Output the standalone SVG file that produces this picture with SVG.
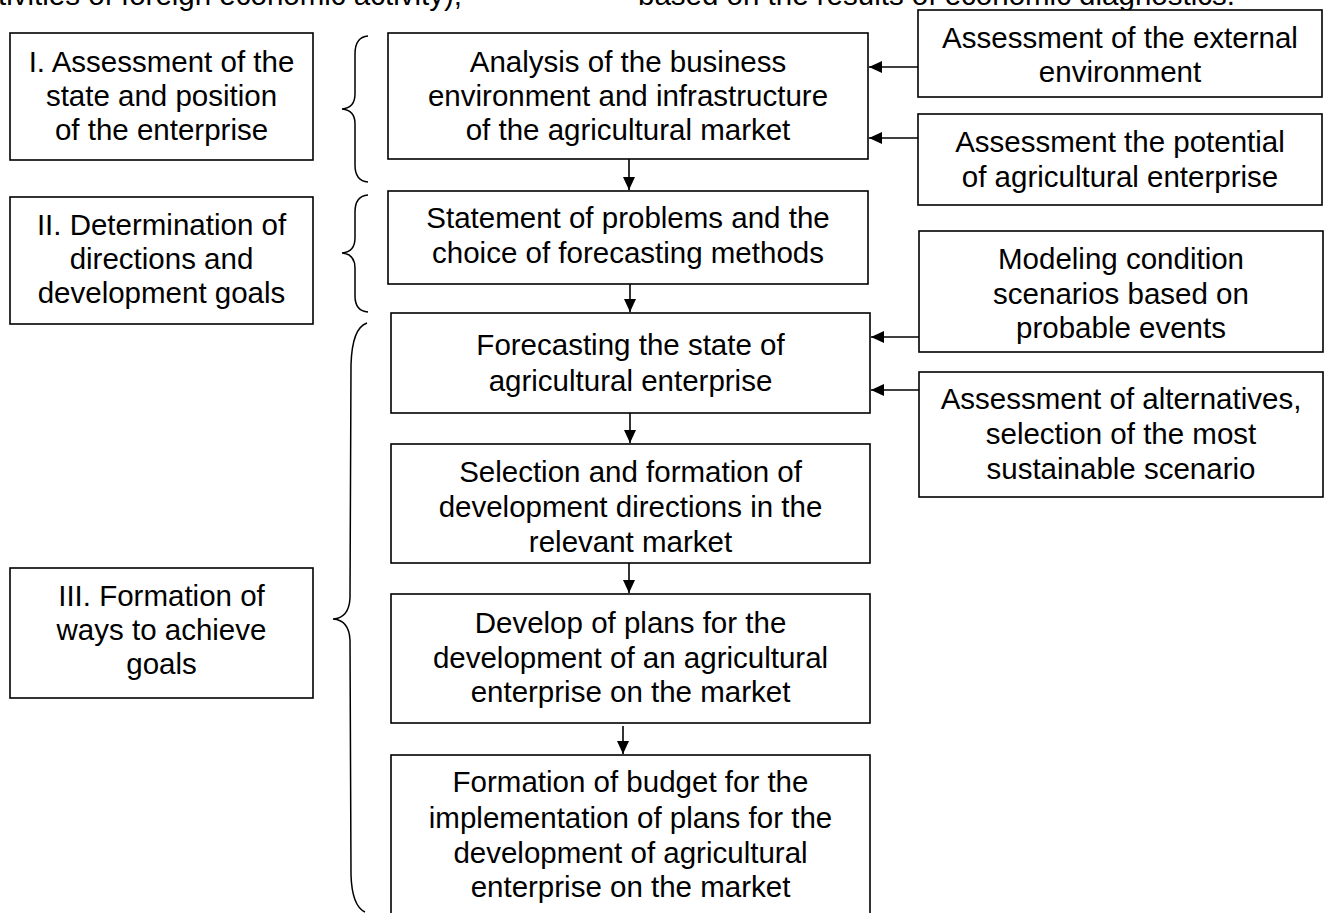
<svg xmlns="http://www.w3.org/2000/svg" width="1328" height="913" viewBox="0 0 1328 913">
<style>
.box{fill:#fff;stroke:#000;stroke-width:1.6}
.t{font-family:"Liberation Sans",Arial,sans-serif;font-size:29.5px;fill:#000;text-anchor:middle}
.tl{font-family:"Liberation Sans",Arial,sans-serif;font-size:29.5px;fill:#000}
.c{stroke:#000;stroke-width:1.6;fill:none}
.br{stroke:#000;stroke-width:1.5;fill:none}
</style>
<defs>
<marker id="ah" viewBox="0 0 13 12" refX="13" refY="6" markerWidth="13" markerHeight="12" markerUnits="userSpaceOnUse" orient="auto">
<path d="M0,0 L13,6 L0,12 z" fill="#000"/>
</marker>
</defs>
<rect width="1328" height="913" fill="#fff"/>
<text class="tl" x="-2" y="5">tivities of foreign economic activity);</text>
<text class="tl" x="638" y="5">based on the results of economic diagnostics.</text>

<g id="stage1">
<rect class="box" x="10" y="33" width="303" height="127"/>
<text class="t" x="161.5" y="72">I. Assessment of the</text>
<text class="t" x="161.5" y="106">state and position</text>
<text class="t" x="161.5" y="140">of the enterprise</text>
</g>
<g id="stage2">
<rect class="box" x="10" y="197" width="303" height="127"/>
<text class="t" x="161.5" y="235">II. Determination of</text>
<text class="t" x="161.5" y="269">directions and</text>
<text class="t" x="161.5" y="303">development goals</text>
</g>
<g id="stage3">
<rect class="box" x="10" y="568" width="303" height="130"/>
<text class="t" x="161.5" y="606">III. Formation of</text>
<text class="t" x="161.5" y="640">ways to achieve</text>
<text class="t" x="161.5" y="674">goals</text>
</g>

<g id="braces">
<path class="br" d="M368,36 Q355,37 355,54 L355,94 Q355,108 342,109 Q355,110 355,124 L355,165 Q355,181 368,182"/>
<path class="br" d="M368,195 Q355,196 355,212 L355,238 Q355,252 342,253 Q355,254 355,268 L355,296 Q355,311 368,312"/>
<path class="br" d="M367,323 Q352,328 351,365 L350,598 Q349,618 333,619 Q349,620 350,640 L351,875 Q352,906 365,912"/>
</g>

<g id="analysis">
<rect class="box" x="388" y="33" width="480" height="126"/>
<text class="t" x="628" y="72">Analysis of the business</text>
<text class="t" x="628" y="106">environment and infrastructure</text>
<text class="t" x="628" y="140">of the agricultural market</text>
</g>
<g id="statement">
<rect class="box" x="388" y="191" width="480" height="93"/>
<text class="t" x="628" y="228">Statement of problems and the</text>
<text class="t" x="628" y="263">choice of forecasting methods</text>
</g>
<g id="forecasting">
<rect class="box" x="391" y="313" width="479" height="100"/>
<text class="t" x="630.5" y="355">Forecasting the state of</text>
<text class="t" x="630.5" y="391">agricultural enterprise</text>
</g>
<g id="selection">
<rect class="box" x="391" y="444" width="479" height="119"/>
<text class="t" x="630.5" y="482">Selection and formation of</text>
<text class="t" x="630.5" y="517">development directions in the</text>
<text class="t" x="630.5" y="552">relevant market</text>
</g>
<g id="develop">
<rect class="box" x="391" y="594" width="479" height="129"/>
<text class="t" x="630.5" y="633">Develop of plans for the</text>
<text class="t" x="630.5" y="668">development of an agricultural</text>
<text class="t" x="630.5" y="702">enterprise on the market</text>
</g>
<g id="budget">
<rect class="box" x="391" y="755" width="479" height="180"/>
<text class="t" x="630.5" y="792">Formation of budget for the</text>
<text class="t" x="630.5" y="828">implementation of plans for the</text>
<text class="t" x="630.5" y="863">development of agricultural</text>
<text class="t" x="630.5" y="897">enterprise on the market</text>
</g>

<g id="external">
<rect class="box" x="918" y="10" width="404" height="87"/>
<text class="t" x="1120" y="48">Assessment of the external</text>
<text class="t" x="1120" y="82">environment</text>
</g>
<g id="potential">
<rect class="box" x="918" y="114" width="404" height="91"/>
<text class="t" x="1120" y="152">Assessment the potential</text>
<text class="t" x="1120" y="187">of agricultural enterprise</text>
</g>
<g id="modeling">
<rect class="box" x="919" y="231" width="404" height="121"/>
<text class="t" x="1121" y="269">Modeling condition</text>
<text class="t" x="1121" y="304">scenarios based on</text>
<text class="t" x="1121" y="338">probable events</text>
</g>
<g id="alternatives">
<rect class="box" x="919" y="372" width="404" height="125"/>
<text class="t" x="1121" y="409">Assessment of alternatives,</text>
<text class="t" x="1121" y="444">selection of the most</text>
<text class="t" x="1121" y="479">sustainable scenario</text>
</g>

<g id="connectors">
<line class="c" x1="918" y1="67" x2="869" y2="67" marker-end="url(#ah)"/>
<line class="c" x1="918" y1="138" x2="869" y2="138" marker-end="url(#ah)"/>
<line class="c" x1="919" y1="337" x2="871" y2="337" marker-end="url(#ah)"/>
<line class="c" x1="919" y1="390" x2="871" y2="390" marker-end="url(#ah)"/>
<line class="c" x1="629" y1="159" x2="629" y2="190" marker-end="url(#ah)"/>
<line class="c" x1="630" y1="284" x2="630" y2="312" marker-end="url(#ah)"/>
<line class="c" x1="630" y1="413" x2="630" y2="443" marker-end="url(#ah)"/>
<line class="c" x1="629" y1="563" x2="629" y2="593" marker-end="url(#ah)"/>
<line class="c" x1="623" y1="726" x2="623" y2="754" marker-end="url(#ah)"/>
</g>
</svg>
